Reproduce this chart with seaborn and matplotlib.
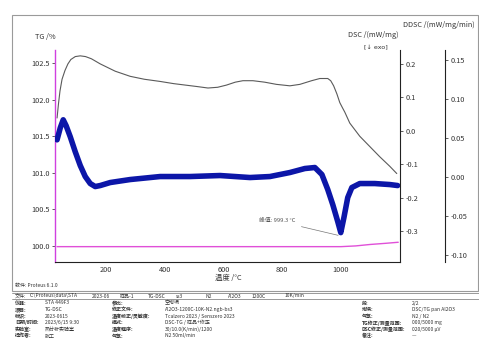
import matplotlib
matplotlib.use("Agg")
import matplotlib.pyplot as plt
import seaborn as sns
import pandas as pd
from matplotlib.lines import Line2D
from matplotlib.patches import Rectangle

# ---- measured curves -------------------------------------------------------
tg_temp = [33, 38, 43, 50, 60, 70, 80, 95, 112, 130, 150, 180, 231, 282, 330, 384,
           430, 470, 510, 547, 580, 610, 640, 666, 700, 740, 780, 826, 860, 900,
           928, 955, 965, 975, 986, 996, 1005, 1013, 1030, 1047, 1064, 1098, 1132,
           1166, 1190]
tg_val = [101.75, 101.95, 102.12, 102.28, 102.40, 102.49, 102.55, 102.59, 102.60,
          102.59, 102.56, 102.49, 102.39, 102.32, 102.28, 102.25, 102.22, 102.20,
          102.18, 102.16, 102.17, 102.20, 102.24, 102.26, 102.26, 102.24, 102.21,
          102.19, 102.21, 102.26, 102.29, 102.29, 102.26, 102.19, 102.08, 101.96,
          101.89, 101.83, 101.68, 101.59, 101.50, 101.36, 101.22, 101.09, 100.99]

dsc_temp = [33, 44, 54, 64, 78, 95, 112, 129, 146, 163, 180, 214, 282, 384, 486,
            588, 690, 758, 826, 877, 911, 935, 955, 972, 989, 999.3, 1010, 1023,
            1037, 1064, 1115, 1166, 1193]
dsc_val = [-0.027, 0.009, 0.033, 0.015, -0.018, -0.063, -0.104, -0.137, -0.158,
           -0.167, -0.164, -0.155, -0.146, -0.137, -0.137, -0.134, -0.140, -0.137,
           -0.125, -0.113, -0.110, -0.131, -0.176, -0.221, -0.272, -0.305, -0.260,
           -0.200, -0.170, -0.158, -0.158, -0.161, -0.164]

base_temp = [33, 200, 400, 600, 800, 950, 1000, 1050, 1100, 1150, 1195]
base_val = [99.99, 99.99, 99.99, 99.99, 99.99, 99.99, 99.99, 100.00, 100.02, 100.035, 100.05]

tg_ticks = [100.0, 100.5, 101.0, 101.5, 102.0, 102.5]
dsc_ticks = [0.2, 0.1, 0.0, -0.1, -0.2, -0.3]
ddsc_ticks = [0.15, 0.10, 0.05, 0.00, -0.05, -0.10]
x_ticks = [200, 400, 600, 800, 1000]

sns.set_style("white")
plt.rcParams["font.family"] = ["Noto Sans CJK SC", "DejaVu Sans"]

W, H = 479, 338
fig = plt.figure(figsize=(W / 100, H / 100), dpi=100)


def fx(x):
    return x / W


def fy(y):
    return 1 - y / H


ax = fig.add_axes([fx(55), fy(262), (400 - 55) / W, (262 - 50) / H])
ax.set_facecolor("none")

tick_kw = dict(labelsize=5.3, labelcolor="#333333", colors="#444444", width=0.6)

# TG curve and baseline on the left axis
sns.lineplot(data=pd.DataFrame({"T": tg_temp, "TG": tg_val}), x="T", y="TG", ax=ax,
             color="#5a5a5a", lw=0.8, sort=False)
sns.lineplot(data=pd.DataFrame({"T": base_temp, "B": base_val}), x="T", y="B", ax=ax,
             color="#e050d8", lw=1.0, sort=False)
ax.set_xlim(26, 1201)
ax.set_ylim(99.78, 102.68)
ax.set_xticks(x_ticks)
ax.set_xticks(range(100, 1201, 100), minor=True)
ax.set_yticks(tg_ticks)
ax.set_yticklabels([f"{v:.1f}" for v in tg_ticks])
ax.set_xlabel("")
ax.set_ylabel("")
ax.tick_params(axis="x", direction="in", length=3, pad=3, **tick_kw)
ax.tick_params(axis="x", which="minor", direction="in", length=1.5, colors="#444444", width=0.5)
ax.tick_params(axis="y", direction="out", length=2.5, pad=1.5, **tick_kw)
for s in ["top", "right"]:
    ax.spines[s].set_visible(False)
ax.spines["left"].set_color("#d040e0")
ax.spines["left"].set_linewidth(1.0)
ax.spines["bottom"].set_color("#222222")
ax.spines["bottom"].set_linewidth(0.8)

# DSC on the first right axis
ax2 = ax.twinx()
ax2.set_facecolor("none")
sns.lineplot(data=pd.DataFrame({"T": dsc_temp, "DSC": dsc_val}), x="T", y="DSC", ax=ax2,
             color="#0c16a8", lw=4.0, sort=False)
ax2.set_ylim(-0.393, 0.242)
ax2.set_yticks(dsc_ticks)
ax2.set_yticklabels([f"{v:.1f}" for v in dsc_ticks])
ax2.set_ylabel("")
ax2.tick_params(axis="y", direction="out", length=2.5, pad=1.5, **tick_kw)
for s in ["top", "left", "bottom"]:
    ax2.spines[s].set_visible(False)
ax2.spines["right"].set_color("#222222")
ax2.spines["right"].set_linewidth(0.8)

# DDSC scale on the outer right axis
ax3 = ax.twinx()
ax3.set_facecolor("none")
ax3.spines["right"].set_position(("axes", (445 - 55) / 345))
ax3.set_ylim(-0.109, 0.163)
ax3.set_yticks(ddsc_ticks)
ax3.set_yticklabels([f"{v:.2f}" for v in ddsc_ticks])
ax3.tick_params(axis="y", direction="out", length=2.5, pad=1.5, **tick_kw)
for s in ["top", "left", "bottom"]:
    ax3.spines[s].set_visible(False)
ax3.spines["right"].set_color("#222222")
ax3.spines["right"].set_linewidth(0.8)

# peak annotation
i_pk = dsc_val.index(min(dsc_val))
pk_T, pk_v = dsc_temp[i_pk], dsc_val[i_pk]
ax2.annotate(f"峰值: {pk_T:.1f} °C", xy=(pk_T, pk_v - 0.01), xytext=(845, -0.27),
             fontsize=4.2, color="#555555", ha="right", va="center",
             arrowprops=dict(arrowstyle="-", color="#777777", lw=0.5))

# axis titles
lab = dict(fontsize=5.3, color="#333333")
fig.text(fx(45), fy(37), "TG /%", ha="center", va="center", **lab)
fig.text(fx(373), fy(35), "DSC /(mW/mg)", ha="center", va="center", **lab)
fig.text(fx(376), fy(48), "[↓ exo]", ha="center", va="center",
         family=["DejaVu Sans"], fontsize=4.6, color="#333333")
fig.text(fx(403), fy(25), "DDSC /(mW/mg/min)", ha="left", va="center", **lab)
fig.text(fx(228), fy(278), "温度 /°C", ha="center", va="center", **lab)

# outer frame of the plot page
fig.add_artist(Rectangle((fx(12), fy(291)), fx(478) - fx(12), fy(15) - fy(291),
                         transform=fig.transFigure, fill=False, ec="#9a9a9a", lw=0.8))

# report footer
small = dict(fontsize=3.6, color="#333333", va="center")
fig.text(fx(15), fy(285), "软件: Proteus 6.1.0", **small)
for yy in (293, 299):
    fig.add_artist(Line2D([fx(12), fx(479)], [fy(yy), fy(yy)], transform=fig.transFigure,
                          color="#888888", lw=0.6))
header_cells = ["文件:", "C:\\Proteus\\data\\STA", "2023-06", "样品-1",
                "TG-DSC", "ss3", "N2", "Al2O3", "1200C", "10K/min"]
hx = [15, 30, 92, 120, 148, 176, 205, 228, 252, 285]
for x0, t in zip(hx, header_cells):
    fig.text(fx(x0), fy(296), t, **small)

rows_left = [("仪器:", "STA 449F3"), ("项目:", "TG-DSC"), ("标识:", "2023-0615"),
             ("日期/时间:", "2023/6/15 9:30"), ("实验室:", "热分析实验室"),
             ("操作者:", "张工")]
rows_mid = [("参比:", "空坩埚"), ("修正文件:", "Al2O3-1200C-10K-N2.ngb-bs3"),
            ("温度校正/灵敏度:", "Tcalzero 2023 / Senszero 2023"),
            ("模式:", "DSC-TG / 样品+修正"), ("温度程序:", "30/10.0(K/min)/1200"),
            ("气氛:", "N2 50ml/min")]
rows_right = [("段:", "2/2"), ("坩埚:", "DSC/TG pan Al2O3"), ("气氛:", "N2 / N2"),
              ("TG修正/测量范围:", "000/5000 mg"), ("DSC修正/测量范围:", "020/5000 µV"),
              ("备注:", "—")]
for k in range(6):
    yy = fy(303 + 6.6 * k)
    fig.text(fx(15), yy, rows_left[k][0], fontweight="bold", **small)
    fig.text(fx(45), yy, rows_left[k][1], **small)
    fig.text(fx(112), yy, rows_mid[k][0], fontweight="bold", **small)
    fig.text(fx(165), yy, rows_mid[k][1], **small)
    fig.text(fx(362), yy, rows_right[k][0], fontweight="bold", **small)
    fig.text(fx(412), yy, rows_right[k][1], **small)

fig.savefig("out.png", dpi=100)
